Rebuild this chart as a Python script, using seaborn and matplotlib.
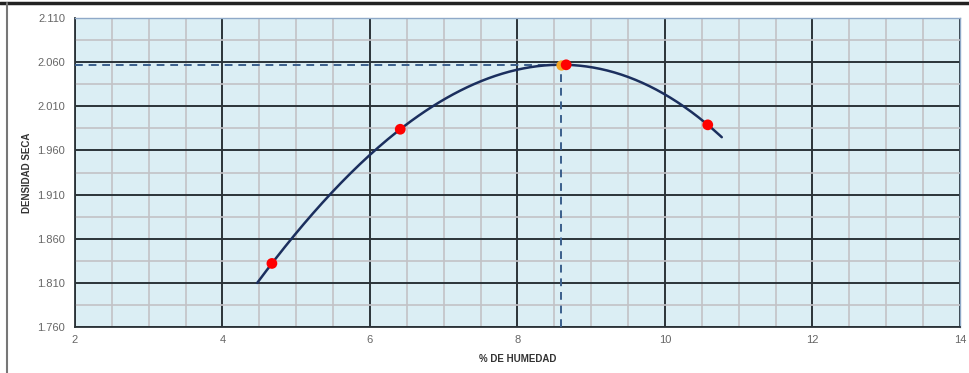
import numpy as np
import pandas as pd
import matplotlib
matplotlib.use("Agg")
import matplotlib.pyplot as plt
from matplotlib.ticker import MultipleLocator, FormatStrFormatter
import seaborn as sns

# ---------- Data ----------
humedad = [4.67, 6.41, 8.66, 10.58]
densidad = [1.832, 1.984, 2.057, 1.989]
curve_range = [4.47, 10.77]          # extent of the trendline
opt_humedad = 8.59                   # optimum moisture
opt_densidad = 2.057                 # max dry density

x_lim = [2, 14]
y_lim = [1.760, 2.110]

# ---------- Style ----------
sns.set_theme(style="white")
plt.rcParams["font.family"] = ["Liberation Sans", "DejaVu Sans"]

BG = "#DBEEF4"
CURVE = "#1B2F5E"
DASH = "#3A5F8C"

fig = plt.figure(figsize=(9.69, 3.73), dpi=100)
ax = fig.add_axes([0.0774, 0.1233, 0.9133, 0.8284])
ax.set_facecolor(BG)

# trendline (3rd order polynomial through the points, like the spreadsheet)
coef = np.polyfit(humedad, densidad, 3)
xs = np.linspace(curve_range[0], curve_range[1], 200)
curve = pd.DataFrame({"x": xs, "y": np.polyval(coef, xs)})
sns.lineplot(data=curve, x="x", y="y", ax=ax, color=CURVE, linewidth=1.8, zorder=4)

# optimum guide lines
ax.plot([x_lim[0], opt_humedad], [opt_densidad, opt_densidad], ls=(0, (4, 3)),
        color=DASH, lw=1.4, zorder=3)
ax.plot([opt_humedad, opt_humedad], [y_lim[0], opt_densidad], ls=(0, (4, 3)),
        color=DASH, lw=1.4, zorder=3)
ax.scatter([opt_humedad], [opt_densidad], s=55, color="#F5A623", zorder=5, linewidths=0)

pts = pd.DataFrame({"humedad": humedad, "densidad": densidad})
sns.scatterplot(data=pts, x="humedad", y="densidad", ax=ax, color="#FF0000",
                s=60, edgecolor="none", zorder=6)

# ---------- Axes ----------
ax.set_xlim(x_lim)
ax.set_ylim(y_lim)
ax.xaxis.set_major_locator(MultipleLocator(2))
ax.xaxis.set_minor_locator(MultipleLocator(0.5))
ax.yaxis.set_major_locator(MultipleLocator(0.05, offset=0.01))
ax.yaxis.set_minor_locator(MultipleLocator(0.025, offset=0.01))
ax.yaxis.set_major_formatter(FormatStrFormatter("%.3f"))

ax.grid(which="minor", color="#C2C2C6", linewidth=1.2, zorder=1)
ax.grid(which="major", color="#2B3338", linewidth=1.4, zorder=2)
ax.set_axisbelow(True)

ax.tick_params(which="both", direction="in", colors="#333333", labelcolor="#666666",
               labelsize=8)
ax.tick_params(which="major", length=4, width=1.2, pad=6)
ax.tick_params(which="minor", length=3, width=1.0)
ax.tick_params(axis="y", which="both", direction="out")
ax.tick_params(axis="y", which="major", pad=3)

for s in ["left", "bottom"]:
    ax.spines[s].set_color("#2B3338")
    ax.spines[s].set_linewidth(1.3)
for s in ["top", "right"]:
    ax.spines[s].set_color("#8FA9C8")
    ax.spines[s].set_linewidth(1.0)

ax.set_xlabel("% DE HUMEDAD", fontsize=7, fontweight="bold", color="#333333", labelpad=6)
ax.set_ylabel("DENSIDAD SECA", fontsize=7, fontweight="bold", color="#333333", labelpad=4)

# outer border of the original screenshot
fig.add_artist(plt.Line2D([0.0, 1.0], [0.992, 0.992], color="#222222", lw=2.5,
                          transform=fig.transFigure))
fig.add_artist(plt.Line2D([0.007, 0.007], [0.0, 0.992], color="#777777", lw=1.5,
                          transform=fig.transFigure))

fig.savefig("out.png", dpi=100)
